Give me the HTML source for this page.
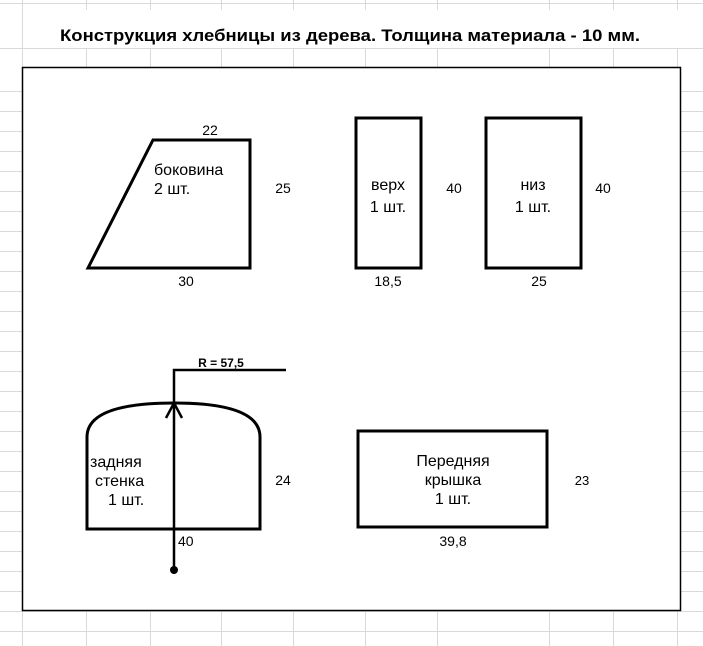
<!DOCTYPE html>
<html><head><meta charset="utf-8"><style>
html,body{margin:0;padding:0;background:#fff;}
svg{display:block;font-family:"Liberation Sans",sans-serif;}
</style></head><body>
<svg width="703" height="646" viewBox="0 0 703 646" xmlns="http://www.w3.org/2000/svg">
<g stroke="#d9d9d9" stroke-width="1">
<line x1="22.5" y1="0" x2="22.5" y2="646"/>
<line x1="86.5" y1="0" x2="86.5" y2="646"/>
<line x1="150.5" y1="0" x2="150.5" y2="646"/>
<line x1="221.5" y1="0" x2="221.5" y2="646"/>
<line x1="293.5" y1="0" x2="293.5" y2="646"/>
<line x1="365.5" y1="0" x2="365.5" y2="646"/>
<line x1="437.5" y1="0" x2="437.5" y2="646"/>
<line x1="549.5" y1="0" x2="549.5" y2="646"/>
<line x1="613.5" y1="0" x2="613.5" y2="646"/>
<line x1="677.5" y1="0" x2="677.5" y2="646"/>
<line x1="0" y1="3.5" x2="703" y2="3.5"/>
<line x1="0" y1="48.5" x2="703" y2="48.5"/>
<line x1="0" y1="91.5" x2="703" y2="91.5"/>
<line x1="0" y1="111.5" x2="703" y2="111.5"/>
<line x1="0" y1="131.5" x2="703" y2="131.5"/>
<line x1="0" y1="151.5" x2="703" y2="151.5"/>
<line x1="0" y1="171.5" x2="703" y2="171.5"/>
<line x1="0" y1="191.5" x2="703" y2="191.5"/>
<line x1="0" y1="211.5" x2="703" y2="211.5"/>
<line x1="0" y1="231.5" x2="703" y2="231.5"/>
<line x1="0" y1="251.5" x2="703" y2="251.5"/>
<line x1="0" y1="271.5" x2="703" y2="271.5"/>
<line x1="0" y1="291.5" x2="703" y2="291.5"/>
<line x1="0" y1="311.5" x2="703" y2="311.5"/>
<line x1="0" y1="331.5" x2="703" y2="331.5"/>
<line x1="0" y1="351.5" x2="703" y2="351.5"/>
<line x1="0" y1="371.5" x2="703" y2="371.5"/>
<line x1="0" y1="391.5" x2="703" y2="391.5"/>
<line x1="0" y1="411.5" x2="703" y2="411.5"/>
<line x1="0" y1="431.5" x2="703" y2="431.5"/>
<line x1="0" y1="451.5" x2="703" y2="451.5"/>
<line x1="0" y1="471.5" x2="703" y2="471.5"/>
<line x1="0" y1="491.5" x2="703" y2="491.5"/>
<line x1="0" y1="511.5" x2="703" y2="511.5"/>
<line x1="0" y1="531.5" x2="703" y2="531.5"/>
<line x1="0" y1="551.5" x2="703" y2="551.5"/>
<line x1="0" y1="571.5" x2="703" y2="571.5"/>
<line x1="0" y1="591.5" x2="703" y2="591.5"/>
<line x1="0" y1="611.5" x2="703" y2="611.5"/>
<line x1="0" y1="631.5" x2="703" y2="631.5"/>
</g>
<rect x="23" y="10" width="680" height="38" fill="#fff"/>
<text x="60" y="41" font-size="17" font-weight="bold" fill="#000" textLength="580" lengthAdjust="spacingAndGlyphs">Конструкция хлебницы из дерева. Толщина материала - 10 мм.</text>
<rect x="22.5" y="67.5" width="658" height="543" fill="#fff" stroke="#000" stroke-width="1.5"/>
<g fill="none" stroke="#000" stroke-width="3">
<polygon points="88,268 153,140 250,140 250,268"/>
<rect x="356" y="118" width="65" height="150"/>
<rect x="486" y="118" width="95" height="150"/>
<path d="M87,529 L87,437 Q87,403 174,403 Q260,403 260,437 L260,529 Z"/>
<rect x="358" y="431" width="189" height="96"/>
<polyline points="174,570 174,370 286,370" stroke-width="2.5"/>
<polyline points="166,418 174,403 182,418" stroke-width="2.5"/>
</g>
<circle cx="174" cy="570" r="4" fill="#000"/>
<g font-size="14" fill="#000">
<text x="210" y="135" text-anchor="middle">22</text>
<text x="283" y="193" text-anchor="middle">25</text>
<text x="186" y="286" text-anchor="middle">30</text>
<text x="454" y="193" text-anchor="middle">40</text>
<text x="388" y="286" text-anchor="middle">18,5</text>
<text x="603" y="193" text-anchor="middle">40</text>
<text x="539" y="286" text-anchor="middle">25</text>
<text x="283" y="485" text-anchor="middle">24</text>
<text x="178" y="546">40</text>
<text x="582" y="485" text-anchor="middle" font-size="13">23</text>
<text x="453" y="546" text-anchor="middle">39,8</text>
<text x="221" y="367" text-anchor="middle" font-size="12" font-weight="bold">R = 57,5</text>
</g>
<g font-size="16" fill="#000">
<text x="154" y="175">боковина</text>
<text x="154" y="194">2 шт.</text>
<text x="388" y="190" text-anchor="middle">верх</text>
<text x="388" y="212" text-anchor="middle">1 шт.</text>
<text x="533" y="190" text-anchor="middle">низ</text>
<text x="533" y="212" text-anchor="middle">1 шт.</text>
<text x="90" y="467">задняя</text>
<text x="95" y="486">стенка</text>
<text x="108" y="505">1 шт.</text>
<text x="453" y="466" text-anchor="middle">Передняя</text>
<text x="453" y="485" text-anchor="middle">крышка</text>
<text x="453" y="504" text-anchor="middle">1 шт.</text>
</g>
</svg>
</body></html>
